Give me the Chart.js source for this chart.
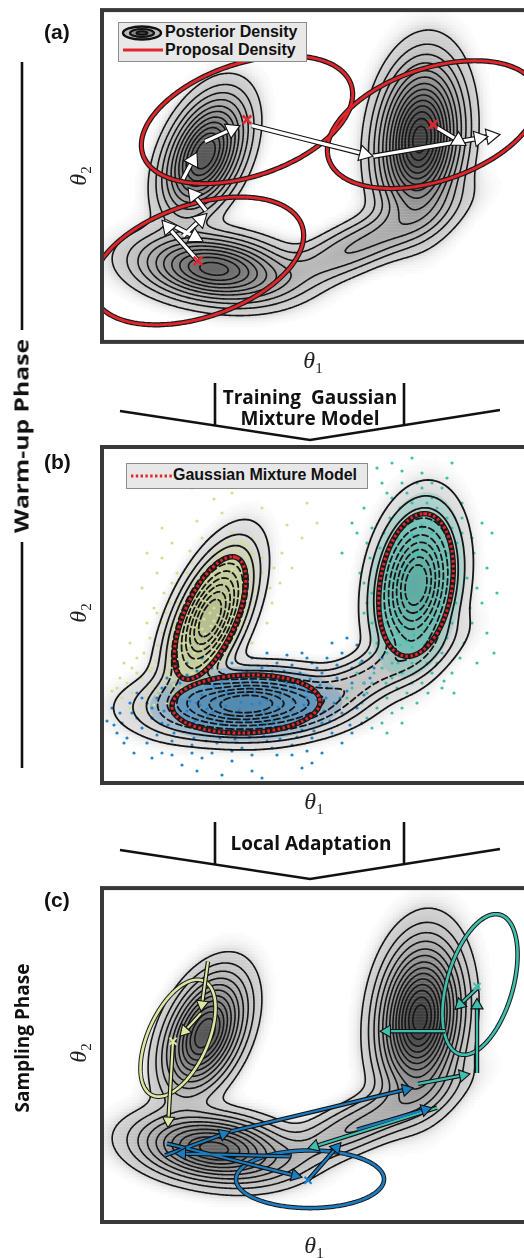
<!DOCTYPE html>
<html>
<head>
<meta charset="utf-8">
<script src="https://cdn.jsdelivr.net/npm/chart.js@4.4.1/dist/chart.umd.min.js"></script>
<style>
  html, body { margin: 0; padding: 0; background: #fff; }
  #page { position: relative; width: 524px; height: 1258px; overflow: hidden; background: #fff; }
  canvas { position: absolute; left: 0; }
  .c { position: absolute; transform: translate(-50%, -50%); white-space: nowrap; }
  .txt { font-family: "Open Sans", Lato, sans-serif; font-weight: 700; font-size: 19px; color: #111; text-align: center; line-height: 21px; }
  .th { font-family: "Liberation Serif", "DejaVu Serif", serif; font-style: italic; font-size: 24px; color: #222; }
  .th sub { font-style: normal; font-size: 15px; }
  .lab { position: absolute; font-family: "Liberation Sans", Arial, sans-serif; font-weight: 700; font-size: 21px; color: #111; }
  .leg { position: absolute; background: #e8e8e8; border: 1px solid #8c8c8c; font-family: "Liberation Sans", Arial, sans-serif; font-weight: 700; font-size: 16px; color: #111; }
  .leg span, .leg svg { position: absolute; }
</style>
</head>
<body>
<div id="page">
  <svg width="524" height="1258" style="position:absolute;left:0;top:0">
    <g stroke="#111" stroke-width="2.6" fill="none">
      <line x1="22" y1="62" x2="22" y2="330" />
      <line x1="22" y1="542" x2="22" y2="768" />
      <polyline points="120,411 310,440 500,410" />
      <line x1="215" y1="383" x2="215" y2="426" />
      <line x1="404" y1="383" x2="404" y2="426" />
      <polyline points="120,850 310,879 500,849" />
      <line x1="215" y1="822" x2="215" y2="865" />
      <line x1="404" y1="822" x2="404" y2="865" />
    </g>
  </svg>

  <canvas id="chartA" width="560" height="352" style="top:0px"></canvas>
  <canvas id="chartB" width="560" height="352" style="top:440px"></canvas>
  <canvas id="chartC" width="560" height="352" style="top:880px"></canvas>

  <div class="lab" style="left:44px;top:20px">(a)</div>
  <div class="lab" style="left:44px;top:450px">(b)</div>
  <div class="lab" style="left:44px;top:888px">(c)</div>

  <div class="c th" style="left:80px;top:176px;transform:translate(-50%,-50%) rotate(-90deg)">θ<sub>2</sub></div>
  <div class="c th" style="left:80px;top:613px;transform:translate(-50%,-50%) rotate(-90deg)">θ<sub>2</sub></div>
  <div class="c th" style="left:80px;top:1053px;transform:translate(-50%,-50%) rotate(-90deg)">θ<sub>2</sub></div>
  <div class="c th" style="left:313px;top:362px">θ<sub>1</sub></div>
  <div class="c th" style="left:314px;top:803px">θ<sub>1</sub></div>
  <div class="c th" style="left:314px;top:1247px">θ<sub>1</sub></div>

  <div class="c txt" style="left:310px;top:408px">Training&nbsp; Gaussian<br>Mixture Model</div>
  <div class="c txt" style="left:311px;top:843px">Local Adaptation</div>
  <div class="c txt" style="left:22px;top:436px;transform:translate(-50%,-50%) rotate(-90deg) scaleX(1.3)">Warm-up Phase</div>
  <div class="c txt" style="left:22px;top:1038px;transform:translate(-50%,-50%) rotate(-90deg)">Sampling Phase</div>

  <div class="leg" style="left:118px;top:22px;width:187px;height:38px">
    <svg width="42" height="16" style="left:2px;top:2px">
      <ellipse cx="21" cy="8" rx="19" ry="6.5" fill="#bbb" stroke="#111" stroke-width="2.4" />
      <ellipse cx="21" cy="8" rx="12" ry="4" fill="#888" stroke="#111" stroke-width="2.2" />
      <ellipse cx="21" cy="8" rx="5.5" ry="1.8" fill="#555" stroke="#111" stroke-width="2" />
    </svg>
    <span style="left:46px;top:0px">Posterior Density</span>
    <svg width="42" height="8" style="left:3px;top:23px">
      <line x1="1" y1="4" x2="41" y2="4" stroke="#e3262b" stroke-width="3" />
    </svg>
    <span style="left:46px;top:18px">Proposal Density</span>
  </div>

  <div class="leg" style="left:126px;top:463px;width:240px;height:24px">
    <svg width="44" height="8" style="left:3px;top:8px">
      <line x1="1" y1="4" x2="43" y2="4" stroke="#e3262b" stroke-width="3" stroke-dasharray="2.4 2.4" />
    </svg>
    <span style="left:46px;top:2px">Gaussian Mixture Model</span>
  </div>
</div>

<script>
// Box size in px: data units = pixels from the lower-left corner of each panel box
const W = 438;
const H = 336;

// Posterior density of (a) and (c): components (centre, spreads, tilt, weight)
const compX = [103, 112, 318, 262];
const compY = [190, 74, 205, 100];
const compSdU = [34, 41, 42, 55];
const compSdV = [19, 18, 22, 14];
const compAngle = [66, -7, 84, 25];
const compWeight = [1.0, 0.85, 1.25, 0.24];

// density estimate shown in (b)
const kdeX = [108, 144, 314, 265];
const kdeY = [165, 79, 198, 105];
const kdeSdU = [40, 50, 40, 50];
const kdeSdV = [17, 17, 21, 13];
const kdeAngle = [66, 2, 81, 27];
const kdeWeight = [1.0, 1.0, 1.0, 0.25];

// contour levels (fraction of maximum)
const levelsAC = [0.03, 0.07, 0.12, 0.18, 0.25, 0.32, 0.40, 0.48, 0.56, 0.64, 0.72, 0.80, 0.88, 0.95];
const levelsBSolid = [0.03, 0.08, 0.15];
const levelsBDashed = [0.24, 0.34, 0.45, 0.56, 0.67, 0.78, 0.88];

// (a) proposal densities
const propCX = [145, 96, 331];
const propCY = [225, 82, 220];
const propA = [110, 110, 110];
const propB = [57, 57, 57];
const propAngle = [19, 19, 19];
// (a) chain of moves [from x, from y, to x, to y]
const movesA = [
  [96, 82, 60, 123], [63, 122, 101, 102], [81, 107, 105, 130], [104, 133, 86, 156],
  [81, 165, 95, 192], [103, 203, 138, 219], [150, 219, 271, 188], [271, 188, 398, 210],
  [335, 217, 364, 199], [353, 202, 386, 208]
];

// (b) Gaussian mixture model
const gmmCX = [108, 144, 314];
const gmmCY = [165, 79, 198];
const gmmA = [66, 74, 72];
const gmmB = [26, 29, 36];
const gmmAngle = [66, 2, 81];
// dense part of each sample cloud (size relative to the GMM ellipse, opacity)
const cloudScale = [1.3, 0.95];
const cloudAlpha = [0.25, 0.42];

// (b) warm-up samples, one list per mixture component
const yellowPts = [
  [95,262],[130,250],[160,275],[70,240],[185,258],[112,284],[145,238],[60,255],[205,280],[120,270],
  [128,222],[138,218],[120,228],[145,226],[112,215],[150,214],
  [110,208],[118,212],[126,203],[134,210],[140,201],[104,202],[130,214],[146,206],[96,212],[158,204],
  [100,195],[108,188],[115,198],[122,190],[130,196],[138,187],[95,186],[126,184],[142,196],[112,192],[88,199],[150,190],
  [90,178],[98,172],[105,182],[112,175],[119,181],[126,171],[133,178],[140,183],[84,171],[108,170],[117,184],[100,185],[76,180],[148,174],
  [80,160],[88,166],[95,158],[102,164],[109,157],[116,168],[123,161],[130,166],[75,168],[99,170],[112,162],[92,155],[137,158],[66,162],
  [74,150],[82,145],[89,152],[96,141],[103,149],[110,144],[117,153],[68,141],[86,139],[100,154],[122,146],[60,150],
  [70,135],[78,128],[85,137],[92,130],[99,136],[106,127],[64,126],[82,140],[112,133],[56,138],
  [68,118],[75,112],[82,121],[89,115],[96,123],[62,112],[100,114],[54,122],
  [60,102],[72,98],[84,106],[50,96],[40,105],[92,100],[66,108],
  [30,90],[20,85],[44,84],[38,78],[25,100],[55,88],[15,95],[48,112],[35,125],[28,140],
  [52,175],[160,225],[170,180],[45,160],[165,160],[150,140],[40,195],[180,230],[75,210],[60,225],
  [62,190],[70,200],[55,170],[48,145],[58,130],[50,115],[42,130],[35,110],[45,95],[58,92],[70,90],[80,95],
  [90,110],[110,125],[118,140],[125,150],[132,145],[140,160],[145,170],[152,180],[155,195],[160,210],[150,230],
  [140,240],[125,240],[110,235],[100,225],[90,220],[85,210],[78,195],[68,180],[64,170],[72,155],[66,145],[60,160],
  [118,230],[135,232],[100,245],[88,232],[150,245],[165,240],[172,215],[178,200],[168,195],[30,115],[22,120],
  [18,105],[10,92],[28,75],[40,70],[52,78],[65,80],[130,290],[175,300],[90,295],[200,245],[215,260],[55,210],[45,230],[190,215]
];
const bluePts = [
  [110,104],[130,106],[150,102],[170,105],[185,100],[120,100],[160,108],[140,104],[195,103],[100,101],
  [85,95],[98,92],[112,97],[125,91],[138,98],[152,93],[165,96],[178,91],[192,97],[205,92],[118,94],[145,90],[172,99],
  [75,85],[88,82],[100,88],[113,84],[126,89],[139,81],[152,87],[165,83],[178,88],[191,82],[204,86],[215,83],[95,80],[158,80],[120,81],
  [72,75],[85,72],[98,78],[111,71],[124,77],[137,73],[150,79],[163,71],[176,76],[189,72],[202,78],[214,74],[105,74],[145,70],[182,79],
  [80,65],[93,62],[106,68],[119,61],[132,67],[145,63],[158,69],[171,62],[184,66],[197,63],[208,68],[126,64],[160,60],
  [95,55],[110,52],[125,58],[140,54],[155,57],[170,51],[185,56],[200,53],[132,50],[165,59],
  [70,42],[90,38],[115,40],[140,35],[165,42],[190,38],[210,45],[60,30],[100,25],[130,22],[175,28],[220,30],[80,18],[150,12],[200,15],[45,40],[240,40],[120,8],[160,5],
  [30,70],[20,60],[40,55],[10,75],[25,45],[50,65],[5,62],[35,90],[15,50],[55,48],[45,80],
  [225,95],[232,80],[240,70],[248,58],[228,62],[255,75],[235,105],[245,92],[262,88],[220,110],
  [210,120],[225,125],[240,130],[250,115],[260,122],[200,130],[230,140],[255,138],[215,115],[268,105],[245,145],[190,118],[175,120],[160,115],[150,125],
  [130,120],[145,112],[110,115],[95,112],[170,112],
  [60,95],[65,105],[55,85],[62,72],[66,58],[72,50],[78,100],[85,108],[92,45],[104,42],[118,45],[133,44],[148,46],
  [162,47],[178,44],[195,46],[212,52],[220,60],[222,72],[224,85],[218,98],[208,104],[198,110],[182,112],[60,60],
  [50,75],[40,85],[35,65],[28,80],[18,70],[12,58],[22,40],[32,30],[50,25],[70,28],[90,30],[110,30],[130,32],[150,28],
  [170,35],[190,28],[205,32],[230,50],[238,85],[250,100],[262,100],[272,115],[280,125],[235,118],[205,125],[185,128],
  [165,130],[120,128],[100,125],[85,120],[75,115],[250,50],[260,60],[210,20],[95,12]
];
const tealPts = [
  [315,265],[325,270],[305,262],[330,262],[320,258],
  [300,252],[310,248],[320,255],[330,250],[338,246],[305,258],[315,245],[295,246],
  [292,238],[300,232],[308,242],[316,235],[324,240],[332,233],[340,239],[296,244],[312,230],[345,230],
  [288,222],[296,228],[304,218],[312,225],[320,216],[328,227],[336,220],[344,225],[300,215],[316,229],
  [286,208],[294,203],[302,212],[310,205],[318,210],[326,202],[334,209],[342,204],[290,214],[322,214],
  [284,192],[292,198],[300,188],[308,195],[316,190],[324,197],[332,186],[340,193],[296,185],[348,188],
  [282,175],[290,180],[298,172],[306,183],[314,176],[322,181],[330,171],[338,178],[286,184],[318,170],
  [284,160],[292,166],[300,157],[308,163],[316,168],[324,158],[332,164],[296,170],[312,155],
  [288,145],[296,150],[304,142],[312,148],[320,153],[328,144],[300,155],
  [292,132],[302,128],[310,136],[318,130],[298,138],[322,138],
  [300,300],[320,310],[340,295],[290,285],[330,285],[350,320],[310,325],[280,300],[360,280],[305,290],[345,305],[275,315],
  [265,240],[258,210],[270,190],[262,170],[255,250],[268,225],[360,250],[372,230],[365,205],[380,180],[370,160],[385,215],[395,190],[362,140],[375,120],[250,260],[240,230],[390,250],
  [280,115],[290,105],[270,100],[300,110],[265,90],[285,85],[275,75],[295,95],[260,80],[290,70],[280,60],[305,90],[310,120],[330,110],[320,100],[340,95],[300,75],[270,55],[250,95],[255,110],
  [280,210],[278,190],[276,170],[280,150],[285,130],[290,120],[350,215],[352,200],[354,180],[350,160],[345,145],
  [340,130],[335,120],[325,120],[355,240],[350,255],[345,265],[335,275],[325,280],[310,280],[298,275],[288,265],
  [282,250],[278,235],[285,290],[300,312],[330,300],[320,295],[360,265],[370,245],[375,195],[368,175],[358,125],
  [350,110],[342,102],[352,90],[326,90],[310,100],[296,120],[284,100],[272,110],[262,100],[258,120],[268,130],
  [275,140],[270,160],[265,180],[262,200],[270,255],[262,275],[290,320],[315,300],[380,260],[385,150],[392,130],
  [300,60],[285,50],[315,80],[265,65],[245,85]
];
const sampleColors = ['#d5df92', '#2583c6', '#3ebfae'];
const sampleRGB = ['213,223,146', '37,131,198', '62,191,174'];

// (c) locally adapted proposals
const locCX = [76, 208, 378];
const locCY = [185, 43, 239];
const locA = [63, 74, 73];
const locB = [30, 29, 33];
const locAngle = [66, 0, 74];
const locColors = ['#dde6a3', '#1b7ec3', '#3fbfae'];
const locMarkX = [71, 206, 375];
const locMarkY = [182, 42, 237];
const movesYellow = [[106, 262, 99, 212], [99, 210, 78, 187], [71, 182, 66, 95]];
const movesBlue = [
  [63, 67, 128, 91], [128, 91, 311, 135], [255, 93, 330, 115],
  [206, 42, 239, 80], [188, 66, 73, 69], [65, 79, 200, 45]
];
const movesTeal = [
  [375, 150, 375, 225], [375, 235, 353, 214], [343, 192, 278, 192],
  [316, 139, 368, 149], [335, 115, 206, 74]
];

// ---------- helpers ----------
function makeDensity(cx, cy, sdU, sdV, ang, wt) {
  return function (x, y) {
    let s = 0;
    for (let k = 0; k < cx.length; k++) {
      const a = ang[k] * Math.PI / 180;
      const dx = x - cx[k], dy = y - cy[k];
      const u = (dx * Math.cos(a) + dy * Math.sin(a)) / sdU[k];
      const v = (-dx * Math.sin(a) + dy * Math.cos(a)) / sdV[k];
      s += wt[k] * Math.exp(-0.5 * (u * u + v * v));
    }
    return s;
  };
}

function buildGrid(dens, step) {
  const nx = Math.floor(W / step) + 1, ny = Math.floor(H / step) + 1;
  const vals = new Float64Array(nx * ny);
  let max = 0;
  for (let j = 0; j < ny; j++) {
    for (let i = 0; i < nx; i++) {
      const v = dens(i * step, j * step);
      vals[j * nx + i] = v;
      if (v > max) max = v;
    }
  }
  return { nx, ny, step, vals, max, dens };
}

const CASES = { 1: ['LB'], 2: ['BR'], 3: ['LR'], 4: ['RT'], 5: ['LB', 'RT'], 6: ['BT'], 7: ['LT'],
  8: ['TL'], 9: ['BT'], 10: ['BR', 'TL'], 11: ['RT'], 12: ['LR'], 13: ['BR'], 14: ['LB'] };

// marching squares + chaining of the segments into polylines
function contour(grid, level) {
  const { nx, ny, step, vals } = grid;
  const pts = new Map();
  const segs = [];
  const edge = (id, x0, y0, v0, x1, y1, v1) => {
    if (!pts.has(id)) {
      const t = (level - v0) / (v1 - v0);
      pts.set(id, { x: x0 + t * (x1 - x0), y: y0 + t * (y1 - y0) });
    }
    return id;
  };
  for (let j = 0; j < ny - 1; j++) {
    for (let i = 0; i < nx - 1; i++) {
      const v00 = vals[j * nx + i], v10 = vals[j * nx + i + 1];
      const v01 = vals[(j + 1) * nx + i], v11 = vals[(j + 1) * nx + i + 1];
      const c = (v00 > level ? 1 : 0) | (v10 > level ? 2 : 0) | (v11 > level ? 4 : 0) | (v01 > level ? 8 : 0);
      if (c === 0 || c === 15) continue;
      const x0 = i * step, x1 = x0 + step, y0 = j * step, y1 = y0 + step;
      const get = (e) => {
        if (e === 'B') return edge('h' + i + '_' + j, x0, y0, v00, x1, y0, v10);
        if (e === 'T') return edge('h' + i + '_' + (j + 1), x0, y1, v01, x1, y1, v11);
        if (e === 'L') return edge('v' + i + '_' + j, x0, y0, v00, x0, y1, v01);
        return edge('v' + (i + 1) + '_' + j, x1, y0, v10, x1, y1, v11);
      };
      CASES[c].forEach(p => segs.push([get(p[0]), get(p[1])]));
    }
  }
  const byEdge = new Map();
  segs.forEach((s, k) => s.forEach(e => {
    if (!byEdge.has(e)) byEdge.set(e, []);
    byEdge.get(e).push(k);
  }));
  const used = new Array(segs.length).fill(false);
  const out = [];
  for (let k = 0; k < segs.length; k++) {
    if (used[k]) continue;
    used[k] = true;
    const chain = [segs[k][0], segs[k][1]];
    for (let dir = 0; dir < 2; dir++) {
      let cur = chain[chain.length - 1];
      while (true) {
        const next = byEdge.get(cur).find(n => !used[n]);
        if (next === undefined) break;
        used[next] = true;
        cur = segs[next][0] === cur ? segs[next][1] : segs[next][0];
        chain.push(cur);
      }
      chain.reverse();
    }
    chain.forEach(e => out.push(pts.get(e)));
    out.push({ x: null, y: null });
  }
  return out;
}

function contourSet(grid, levels, opts) {
  let data = [];
  levels.forEach(l => { data = data.concat(contour(grid, l * grid.max)); });
  return {
    data, showLine: true, pointRadius: 0, borderColor: '#151515',
    borderWidth: opts.width, borderDash: opts.dash || [], order: opts.order, borderCapStyle: 'round'
  };
}

function heatSet(grid, step, shade) {
  const data = [], colors = [];
  for (let y = step / 2; y < H; y += step) {
    for (let x = step / 2; x < W; x += step) {
      const t = grid.dens(x, y) / grid.max;
      let g;
      if (t > 0.03) g = shade.edge - shade.depth * Math.pow((t - 0.03) / 0.97, 0.8);
      else g = 255 - (255 - shade.edge) * Math.pow(t / 0.03, 1.5);
      if (g > 252) continue;
      g = Math.round(g);
      data.push({ x, y });
      colors.push('rgb(' + g + ',' + g + ',' + g + ')');
    }
  }
  return {
    data, showLine: false, pointStyle: 'rect', pointRadius: step * 0.78,
    pointBackgroundColor: colors, pointBorderWidth: 0, order: 100
  };
}

// closed ellipse; runs a little past 360 degrees so the seam of thick strokes overlaps
function ellipsePts(cx, cy, a, b, angDeg) {
  const r = angDeg * Math.PI / 180, out = [];
  for (let k = 0; k <= 164; k++) {
    const t = k / 160 * 2 * Math.PI;
    const u = a * Math.cos(t), v = b * Math.sin(t);
    out.push({ x: cx + u * Math.cos(r) - v * Math.sin(r), y: cy + u * Math.sin(r) + v * Math.cos(r) });
  }
  return out;
}

function ellipseSets(cx, cy, a, b, ang, o) {
  const sets = [];
  for (let k = 0; k < cx.length; k++) {
    const pts = ellipsePts(cx[k], cy[k], a[k], b[k], ang[k]);
    const col = Array.isArray(o.color) ? o.color[k] : o.color;
    sets.push({ data: pts, showLine: true, pointRadius: 0, borderColor: '#1a1a1a', borderWidth: o.outer, order: 70 });
    sets.push({ data: pts, showLine: true, pointRadius: 0, borderColor: col, borderWidth: o.inner,
      borderDash: o.dash || [], borderCapStyle: 'butt', order: 69 });
  }
  return sets;
}

function cloudSets() {
  const sets = [];
  for (let k = 0; k < gmmCX.length; k++) {
    cloudScale.forEach((s, m) => {
      sets.push({
        data: ellipsePts(gmmCX[k], gmmCY[k], gmmA[k] * s, gmmB[k] * s, gmmAngle[k]),
        showLine: true, pointRadius: 0, borderWidth: 0, fill: 'shape',
        backgroundColor: 'rgba(' + sampleRGB[k] + ',' + cloudAlpha[m] + ')', order: 98 - m
      });
    });
  }
  return sets;
}

function arrowSets(list, o) {
  const shaft = [], heads = [], rot = [];
  list.forEach(([x0, y0, x1, y1]) => {
    const dx = x1 - x0, dy = y1 - y0, len = Math.hypot(dx, dy);
    const hx = x1 - dx / len * o.r, hy = y1 - dy / len * o.r;
    shaft.push({ x: x0, y: y0 }, { x: hx, y: hy }, { x: null, y: null });
    heads.push({ x: hx, y: hy });
    rot.push(Math.atan2(dx, dy) * 180 / Math.PI);
  });
  return [
    { data: shaft, showLine: true, pointRadius: 0, borderColor: '#111', borderWidth: o.w + 2.2, borderCapStyle: 'butt', order: 60 },
    { data: shaft, showLine: true, pointRadius: 0, borderColor: o.fill, borderWidth: o.w, borderCapStyle: 'butt', order: 59 },
    { data: heads, showLine: false, pointStyle: 'triangle', pointRadius: o.r, pointRotation: rot,
      pointBackgroundColor: o.fill, pointBorderColor: '#111', pointBorderWidth: 1.1, order: 58 }
  ];
}

function markerSet(xs, ys, color, r, w) {
  return {
    data: xs.map((x, i) => ({ x, y: ys[i] })), showLine: false, pointStyle: 'crossRot',
    pointRadius: r, pointBorderColor: color, pointBorderWidth: w, order: 50
  };
}

const frame = {
  id: 'frame',
  afterDatasetsDraw(chart) {
    const { ctx, chartArea: a } = chart;
    ctx.save();
    ctx.strokeStyle = '#383838';
    ctx.lineWidth = 4;
    ctx.strokeRect(a.left, a.top, a.right - a.left, a.bottom - a.top);
    ctx.restore();
  }
};

function makeChart(id, pad, datasets) {
  return new Chart(document.getElementById(id), {
    type: 'scatter',
    data: { datasets },
    options: {
      responsive: false, animation: false, events: [], devicePixelRatio: 1,
      layout: { padding: { left: 102, right: 20, top: pad[0], bottom: pad[1] } },
      datasets: { scatter: { clip: 0 } },
      scales: {
        x: { type: 'linear', min: 0, max: W, display: false },
        y: { type: 'linear', min: 0, max: H, display: false }
      },
      plugins: { legend: { display: false }, tooltip: { enabled: false } },
      // tiny tension keeps Chart.js off its x-sorted fast path (ellipses, closed contours)
      elements: { point: { radius: 0 }, line: { tension: 0.0001 } }
    },
    plugins: [frame]
  });
}

// ---------- panels ----------
const gridAC = buildGrid(makeDensity(compX, compY, compSdU, compSdV, compAngle, compWeight), 2);
const gridB = buildGrid(makeDensity(kdeX, kdeY, kdeSdU, kdeSdV, kdeAngle, kdeWeight), 2);

// (a)
makeChart('chartA', [9, 7], [
  heatSet(gridAC, 3, { edge: 212, depth: 150 }),
  contourSet(gridAC, levelsAC, { width: 1.6, order: 90 }),
  ...ellipseSets(propCX, propCY, propA, propB, propAngle, { color: '#e3262b', outer: 5.2, inner: 2.8 }),
  ...arrowSets(movesA, { r: 9, w: 3.2, fill: '#ffffff' }),
  markerSet(propCX, propCY, '#e3262b', 6, 2.6)
]);

// (b)
makeChart('chartB', [7, 9], [
  heatSet(gridB, 3, { edge: 226, depth: 80 }),
  ...cloudSets(),
  ...[yellowPts, bluePts, tealPts].map((pts, k) => ({
    data: pts.map(p => ({ x: p[0], y: p[1] })), showLine: false, pointRadius: 1.6,
    pointBackgroundColor: sampleColors[k], pointBorderWidth: 0, order: 95 - k
  })),
  contourSet(gridB, levelsBSolid, { width: 1.8, order: 90 }),
  contourSet(gridB, levelsBDashed, { width: 1.8, dash: [6, 3.5], order: 89 }),
  ...ellipseSets(gmmCX, gmmCY, gmmA, gmmB, gmmAngle, { color: '#e3262b', outer: 5.5, inner: 3, dash: [2.6, 2.4] })
]);

// (c)
makeChart('chartC', [7, 10], [
  heatSet(gridAC, 3, { edge: 212, depth: 150 }),
  contourSet(gridAC, levelsAC, { width: 1.6, order: 90 }),
  ...ellipseSets(locCX, locCY, locA, locB, locAngle, { color: locColors, outer: 4.6, inner: 2.6 }),
  ...arrowSets(movesYellow, { r: 7, w: 2.2, fill: locColors[0] }),
  ...arrowSets(movesBlue, { r: 7, w: 2.2, fill: locColors[1] }),
  ...arrowSets(movesTeal, { r: 7, w: 2.2, fill: locColors[2] }),
  ...locMarkX.map((x, k) => markerSet([x], [locMarkY[k]], locColors[k], 5, 2))
]);
</script>
</body>
</html>
